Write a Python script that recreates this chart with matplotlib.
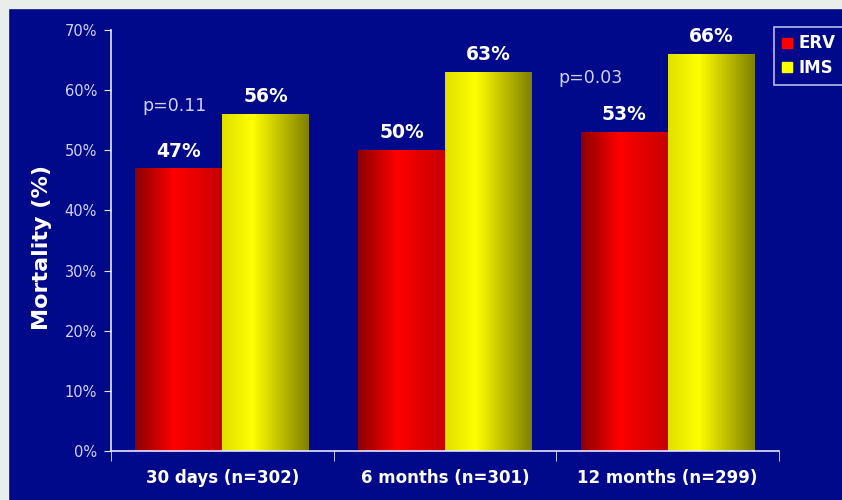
import numpy as np
import matplotlib.pyplot as plt
from matplotlib.patches import Rectangle
from matplotlib.lines import Line2D

######### Data ############
categories = ['30 days (n=302)', '6 months (n=301)', '12 months (n=299)']
erv = [47, 50, 53]
ims = [56, 63, 66]
p_idx = [0, 2]
p_labels = ['p=0.11', 'p=0.03']
###########################

# layout of the p-value annotations (data units)
p_y = [57.3, 62.0]
p_dx = [-0.02, -0.15]

bg = '#00098A'
axis_col = '#E6E6FF'
tick_col = '#D2D2FF'

fig = plt.figure(figsize=(8.42, 5), dpi=100, facecolor=bg)
ax = fig.add_axes([111/842, 49/500, 668/842, 421/500])
ax.set_facecolor(bg)

# light border on top / left like the slide crop
fig.patches.append(Rectangle((0, 0), 8/842, 1, transform=fig.transFigure, color='#E9EEEA', zorder=-1))
fig.patches.append(Rectangle((0, 1-8/500), 1, 8/500, transform=fig.transFigure, color='#E9EEEA', zorder=-1))

x = np.arange(len(categories))
w = 0.39

def shade(base, profile):
    t = np.linspace(0, 1, 256)
    b = np.interp(t, profile[0], profile[1])
    rgb = np.array(base)[None, :] * b[:, None]
    return np.clip(rgb, 0, 1)[None, :, :]

red_grad = shade((1.0, 0.0, 0.0), ([0, 0.45, 1], [0.55, 1.0, 0.78]))
yel_grad = shade((1.0, 1.0, 0.0), ([0, 0.35, 1], [0.88, 1.0, 0.5]))

#### bars filled with a horizontal "cylinder" gradient ####
def grad_bars(xs, hs, grad, label):
    bars = ax.bar(xs, hs, width=w, color='none', label=label, zorder=2)
    for b in bars:
        x0, y0 = b.get_x(), b.get_y()
        im = ax.imshow(grad, extent=(x0, x0 + b.get_width(), y0, y0 + b.get_height()),
                       aspect='auto', zorder=2, interpolation='bilinear')
        im.set_clip_path(b)
    return bars

grad_bars(x - w/2, erv, red_grad, 'ERV')
grad_bars(x + w/2, ims, yel_grad, 'IMS')

for i in range(len(categories)):
    ax.text(x[i] - w/2, erv[i] + 1.3, f'{erv[i]}%', ha='center', va='bottom',
            color='white', fontsize=13.5, fontweight='bold')
    ax.text(x[i] + w/2, ims[i] + 1.3, f'{ims[i]}%', ha='center', va='bottom',
            color='white', fontsize=13.5, fontweight='bold')
for k, i in enumerate(p_idx):
    ax.text(x[i] - w/2 + p_dx[k], p_y[k], p_labels[k], ha='center', va='center',
            color=tick_col, fontsize=12.5)

ax.set_xlim(-0.5, 2.5)
ax.set_ylim(0, 70)
ax.set_yticks(np.arange(0, 71, 10))
ax.set_yticklabels([f'{v}%' for v in range(0, 71, 10)])
ax.set_xticks(x)
ax.set_xticklabels(categories, fontsize=12, fontweight='bold', color='white')
ax.set_xticks([-0.5, 0.5, 1.5, 2.5], minor=True)
ax.tick_params(axis='x', which='major', length=0, pad=13)
ax.tick_params(axis='x', which='minor', length=7, color=axis_col, direction='out')
ax.tick_params(axis='y', length=5, color=axis_col, labelcolor=tick_col, labelsize=10.5, pad=5)

for s in ['top', 'right']:
    ax.spines[s].set_visible(False)
for s in ['left', 'bottom']:
    ax.spines[s].set_color(axis_col)
    ax.spines[s].set_linewidth(1.2)

fig.text(42/842, 1 - 247/500, 'Mortality (%)', rotation=90, ha='center', va='center',
         color='white', fontsize=16, fontweight='bold')

handles = [Line2D([], [], marker='s', ls='', color='#FF0000', markersize=7),
           Line2D([], [], marker='s', ls='', color='#FFFF00', markersize=7)]
leg = fig.legend(handles, ['ERV', 'IMS'], loc='upper left',
                 bbox_to_anchor=(774/842, 1 - 27/500), frameon=True,
                 prop={'weight': 'bold', 'size': 12}, labelcolor='white',
                 handlelength=0.6, handletextpad=0.4, borderpad=0.45,
                 labelspacing=0.4, fancybox=False, borderaxespad=0)
leg.get_frame().set_facecolor(bg)
leg.get_frame().set_edgecolor(axis_col)
leg.get_frame().set_linewidth(1.2)

fig.savefig('out.png', dpi=100, facecolor=bg)
